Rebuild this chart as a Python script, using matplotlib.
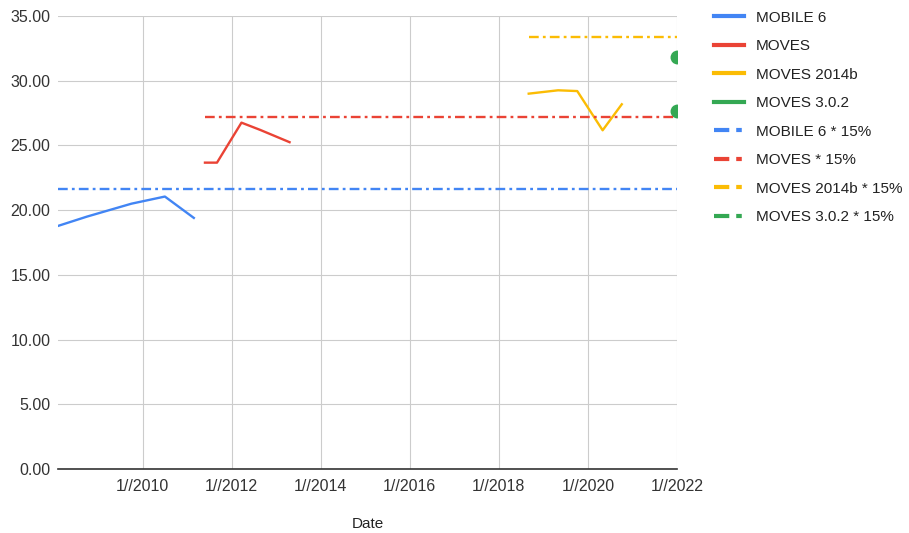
import matplotlib.pyplot as plt
from matplotlib.lines import Line2D

plt.rcParams['font.family'] = ['Liberation Sans', 'DejaVu Sans']
plt.rcParams['lines.scale_dashes'] = False

# decimal years on the x axis
mobile6_x = [2008.1, 2008.75, 2009.75, 2010.5, 2011.15]
mobile6_y = [18.78, 19.5, 20.5, 21.05, 19.4]
moves_x = [2011.4, 2011.67, 2012.22, 2012.64, 2013.3]
moves_y = [23.67, 23.67, 26.76, 26.2, 25.25]
moves14_x = [2018.67, 2019.33, 2019.76, 2020.33, 2020.76]
moves14_y = [29.0, 29.26, 29.2, 26.17, 28.18]
moves302_x = [2022.0]
moves302_y = [27.67]

mobile6_15 = 21.6
moves_15 = 27.22
moves14_15 = 33.37
moves302_15 = 31.8

x_end = 2022.0
x_start = 2008.1
tick_years = [2010, 2012, 2014, 2016, 2018, 2020, 2022]
tick_labels = ['1//%d' % y for y in tick_years]
y_ticks = [0, 5, 10, 15, 20, 25, 30, 35]

BLUE = '#4285F4'
RED = '#EA4335'
YELLOW = '#FBBC04'
GREEN = '#34A853'
DASHDOT = (0, (7, 3, 2, 3))

fig = plt.figure(figsize=(9.09, 5.33), dpi=100)
ax = fig.add_axes([58 / 909, 1 - 469 / 533, (677 - 58) / 909, (469 - 16) / 533])

ax.plot(mobile6_x, mobile6_y, color=BLUE, lw=1.7)
ax.plot(moves_x, moves_y, color=RED, lw=1.7)
ax.plot(moves14_x, moves14_y, color=YELLOW, lw=1.7)
ax.plot(moves302_x, moves302_y, 'o', color=GREEN, ms=9)

ax.plot([mobile6_x[0], x_end], [mobile6_15] * 2, color=BLUE, lw=1.7, linestyle=DASHDOT)
ax.plot([moves_x[0], x_end], [moves_15] * 2, color=RED, lw=1.7, linestyle=DASHDOT)
ax.plot([moves14_x[0], x_end], [moves14_15] * 2, color=YELLOW, lw=1.7, linestyle=DASHDOT)
ax.plot(moves302_x, [moves302_15], 'o', color=GREEN, ms=9)

ax.set_xlim(x_start, x_end)
ax.set_ylim(0, 35)
ax.set_xticks(tick_years)
ax.set_xticklabels(tick_labels)
ax.set_yticks(y_ticks)
ax.set_yticklabels(['%.2f' % v for v in y_ticks])
ax.tick_params(length=0, labelsize=11.5, colors='#333333', pad=7)
ax.tick_params(axis='y', pad=5.5)
ax.grid(True, color='#cccccc', lw=0.8)
ax.set_axisbelow(True)
for s in ['top', 'left', 'right']:
    ax.spines[s].set_visible(False)
ax.spines['bottom'].set_color('#333333')
ax.spines['bottom'].set_linewidth(1.2)
ax.set_xlabel('Date', fontsize=11, color='#222222', labelpad=17)

labels = ['MOBILE 6', 'MOVES', 'MOVES 2014b', 'MOVES 3.0.2',
          'MOBILE 6 * 15%', 'MOVES * 15%', 'MOVES 2014b * 15%', 'MOVES 3.0.2 * 15%']
colors = [BLUE, RED, YELLOW, GREEN]
handles = [Line2D([], [], color=c, lw=3) for c in colors]
handles += [Line2D([], [], color=c, lw=3, linestyle=(0, (11, 5, 4, 20)),
                   dash_capstyle='butt') for c in colors]
fig.legend(handles, labels, loc='upper left', bbox_to_anchor=(700 / 909, 1 + 3 / 533),
           frameon=False, fontsize=11, handlelength=2.0, handletextpad=0.75,
           labelspacing=0.95, labelcolor='#222222')

fig.savefig('out.png', dpi=100)
